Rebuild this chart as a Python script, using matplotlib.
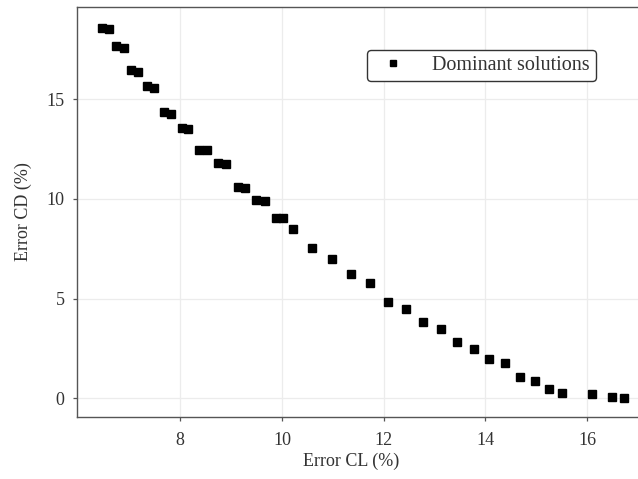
"""Pareto front of the CL/CD error trade-off (dominant solutions)."""

import matplotlib.pyplot as plt

# Error in lift and drag coefficients (%) for each non-dominated solution
error_cl = [6.456, 6.594, 6.738, 6.885, 7.037, 7.176, 7.351, 7.491, 7.677, 7.825,
            8.026, 8.159, 8.370, 8.521, 8.734, 8.897, 9.127, 9.274, 9.497, 9.660,
            9.884, 10.028, 10.224, 10.598, 10.979, 11.359, 11.733, 12.092, 12.440,
            12.781, 13.123, 13.449, 13.778, 14.079, 14.387, 14.682, 14.977, 15.249,
            15.514, 16.104, 16.486, 16.732]
error_cd = [18.58, 18.49, 17.65, 17.56, 16.47, 16.37, 15.64, 15.56, 14.34, 14.26,
            13.53, 13.48, 12.47, 12.43, 11.78, 11.73, 10.59, 10.55, 9.94, 9.90,
            9.06, 9.02, 8.47, 7.52, 6.97, 6.23, 5.79, 4.84, 4.46,
            3.84, 3.47, 2.81, 2.47, 1.97, 1.75, 1.08, 0.88, 0.45,
            0.29, 0.23, 0.08, 0.00]

plt.rcParams["font.family"] = ["Liberation Serif", "DejaVu Serif"]

fig = plt.figure(figsize=(6.38, 4.79), dpi=100)
# the plotting area runs past the right edge of the canvas
ax = fig.add_axes([0.1207, 0.130, 0.899, 0.8548])

ax.plot(error_cl, error_cd, linestyle="none", marker="s", markersize=6.2,
        color="black", label="Dominant solutions")

ax.set_xlim(5.97, 17.25)
ax.set_ylim(-0.92, 19.6)
ax.set_xticks([8, 10, 12, 14, 16])
ax.set_yticks([0, 5, 10, 15])
ax.grid(True, color="#ececec", linewidth=0.9)
ax.set_axisbelow(True)

for side in ("left", "bottom", "top", "right"):
    ax.spines[side].set_color("#555555")
    ax.spines[side].set_linewidth(1.0)
ax.tick_params(direction="out", length=3, width=0.9, color="#555555",
               labelsize=13, labelcolor="#333333")
ax.tick_params(axis="x", pad=8)
ax.tick_params(axis="y", pad=6)

ax.set_xlabel("Error CL (%)", fontsize=13, color="#333333")
ax.set_ylabel("Error CD (%)", fontsize=13, color="#333333")
ax.xaxis.set_label_coords(0.478, -0.088)
ax.yaxis.set_label_coords(-0.078, 0.5)

leg = ax.legend(loc="upper right", bbox_to_anchor=(596 / 638, 1 - 50 / 479),
                bbox_transform=fig.transFigure, borderaxespad=0, numpoints=1,
                fontsize=14.5, handletextpad=0.95, framealpha=1, fancybox=True,
                markerscale=0.75, borderpad=0.3)
leg.get_frame().set_edgecolor("#333333")
leg.get_frame().set_linewidth(1.0)
for t in leg.get_texts():
    t.set_color("#333333")

fig.savefig("out.png", dpi=100)
